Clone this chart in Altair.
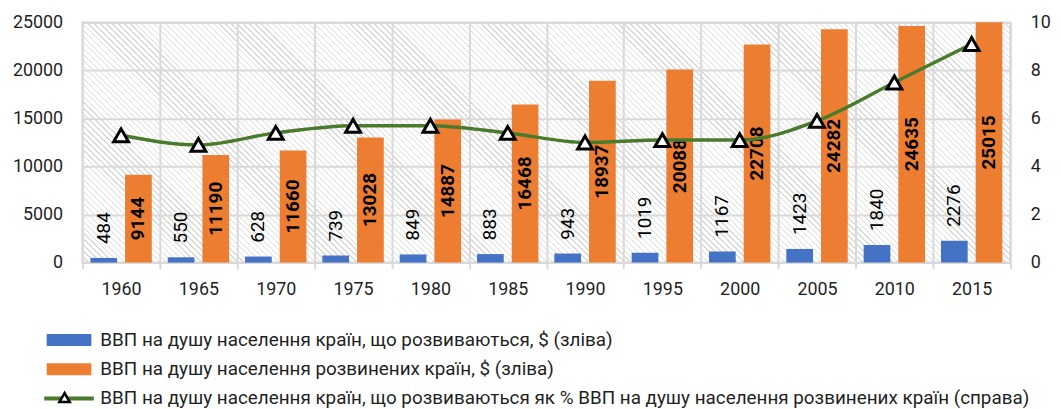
import altair as alt
import pandas as pd

years = ["1960", "1965", "1970", "1975", "1980", "1985", "1990", "1995", "2000", "2005", "2010", "2015"]
developing = [484, 550, 628, 739, 849, 883, 943, 1019, 1167, 1423, 1840, 2276]
developed = [9144, 11190, 11660, 13028, 14887, 16468, 18937, 20088, 22708, 24282, 24635, 25015]
share = [5.3, 4.9, 5.4, 5.7, 5.7, 5.4, 5.0, 5.1, 5.1, 5.9, 7.5, 9.1]

S1 = "ВВП на душу населення країн, що розвиваються, $ (зліва)"
S2 = "ВВП на душу населення розвинених країн, $ (зліва)"
S3 = "ВВП на душу населення країн, що розвиваються як % ВВП на душу населення розвинених країн (справа)"

BLUE, ORANGE, GREEN = "#4472C4", "#ED7D31", "#4a7a2b"
GRID = "#d9d9d9"
FONT = "Roboto"
TXT = "#1f1f1f"

W, H = 935, 242

bars_df = pd.DataFrame({
    "year": years * 2,
    "series": [S1] * len(years) + [S2] * len(years),
    "value": developing + developed,
})
line_df = pd.DataFrame({"year": years, "share": share, "s3": [S3] * len(years)})

# diagonal hatch background (style only)
L = W + H
a = L / (W * W + H * H)
period, lw = 6.0, 1.4
CLEAR, HATCH = "rgba(255,255,255,0)", "#dadada"
stops = []
k = 0
while k * period < L:
    o0 = k * period / L
    o1 = min((k * period + lw) / L, 1.0)
    stops += [
        alt.GradientStop(offset=o0, color=CLEAR),
        alt.GradientStop(offset=o0, color=HATCH),
        alt.GradientStop(offset=o1, color=HATCH),
        alt.GradientStop(offset=o1, color=CLEAR),
    ]
    k += 1
hatch = alt.LinearGradient(gradient="linear", x1=0, y1=1, x2=a * W, y2=1 - a * H, stops=stops)

xaxis = alt.Axis(
    title=None, labelAngle=0, labelFontSize=18, labelColor=TXT, labelFont=FONT,
    labelPadding=12, tickBand="extent", grid=True, gridColor=GRID, gridWidth=2,
    domainColor=GRID, domainWidth=2, tickColor=GRID, tickWidth=2, tickSize=6,
)
x = alt.X("year:N", sort=years, scale=alt.Scale(paddingInner=0, paddingOuter=0), axis=xaxis)
xoff = alt.XOffset("series:N", sort=[S1, S2],
                   scale=alt.Scale(domain=[S1, S2], paddingInner=0.23, paddingOuter=0.23))

yaxisL = alt.Axis(
    title=None, values=[0, 5000, 10000, 15000, 20000, 25000], format="d", grid=True,
    gridColor=GRID, gridWidth=2, domain=False, ticks=False, labelPadding=20, labelFontSize=18,
    labelColor=TXT, labelFont=FONT,
)
yL = alt.Y("value:Q", scale=alt.Scale(domain=[0, 25000], nice=False), axis=yaxisL)

bg = alt.Chart(pd.DataFrame({"k": [0]})).mark_rect(fill=hatch, stroke=None).encode(
    x=alt.value(0), x2=alt.value("width"), y=alt.value(0), y2=alt.value("height")
)

legend1 = alt.Legend(
    orient="none", legendX=-23, legendY=310.5, direction="vertical", title=None,
    symbolType=alt.ExprRef(expr="datum.index == 2 ? 'M-5,-0.4L5,-0.4L5,0.4L-5,0.4Z' : 'M-4.5,-1.2L4.5,-1.2L4.5,1.2L-4.5,1.2Z'"),
    symbolSize=100, symbolStrokeWidth=0, symbolOpacity=1,
    labelFontSize=19, labelFont=FONT, labelColor=TXT, labelOffset=22,
    rowPadding=9.5, labelLimit=0, zindex=1,
)

bars = alt.Chart(bars_df).mark_bar().encode(
    x=x, xOffset=xoff, y=yL,
    color=alt.Color("series:N", scale=alt.Scale(domain=[S1, S2, S3], range=[BLUE, ORANGE, GREEN]),
                    legend=legend1),
)

text_blue = alt.Chart(bars_df).transform_filter(alt.datum.series == S1).mark_text(
    angle=270, align="left", baseline="middle", dx=14, fontSize=19, font=FONT, color="#000000"
).encode(x=x, xOffset=xoff, y=yL, text=alt.Text("value:Q", format="d"))

text_orange = alt.Chart(bars_df).transform_filter(alt.datum.series == S2).transform_calculate(
    mid="datum.value / 2"
).mark_text(
    angle=270, align="center", baseline="middle", fontSize=19, fontWeight="bold", font=FONT,
    color="#000000"
).encode(
    x=x, xOffset=xoff,
    y=alt.Y("mid:Q", scale=alt.Scale(domain=[0, 25000], nice=False), axis=yaxisL),
    text=alt.Text("value:Q", format="d"),
)

yaxisR = alt.Axis(
    title=None, orient="right", values=[0, 2, 4, 6, 8, 10], grid=False, domain=False, ticks=False,
    labelPadding=20, labelFontSize=18, labelColor=TXT, labelFont=FONT, labelAlign="left",
)
yR = alt.Y("share:Q", scale=alt.Scale(domain=[0, 10], nice=False), axis=yaxisR)

line = alt.Chart(line_df).mark_line(color=GREEN, strokeWidth=3.5, interpolate="monotone").encode(
    x=x, y=yR
)

legend2 = alt.Legend(
    orient="none", legendX=-24.5, legendY=371.5, title=None, labelExpr="''",
    symbolType="triangle-up", symbolSize=110, symbolFillColor="white", symbolStrokeWidth=2.5,
    symbolOpacity=1, zindex=2,
)
points = alt.Chart(line_df).mark_point(
    filled=True, fill="white", shape="triangle-up", strokeWidth=3, size=225, opacity=1
).encode(
    x=x, y=yR,
    stroke=alt.Stroke("s3:N", scale=alt.Scale(domain=[S3], range=["#000000"]), legend=legend2),
)

left = alt.layer(bg, bars, text_blue, text_orange)
right = alt.layer(line, points)

chart = alt.layer(left, right).resolve_scale(y="independent").properties(
    width=W, height=H,
    padding={"left": 75, "top": 13, "right": 43, "bottom": 146},
    autosize=alt.AutoSizeParams(type="none"),
).configure(font=FONT).configure_view(stroke=GRID, strokeWidth=2, fill="white")

chart.save("out.html", embed_options={"renderer": "svg", "actions": False})
